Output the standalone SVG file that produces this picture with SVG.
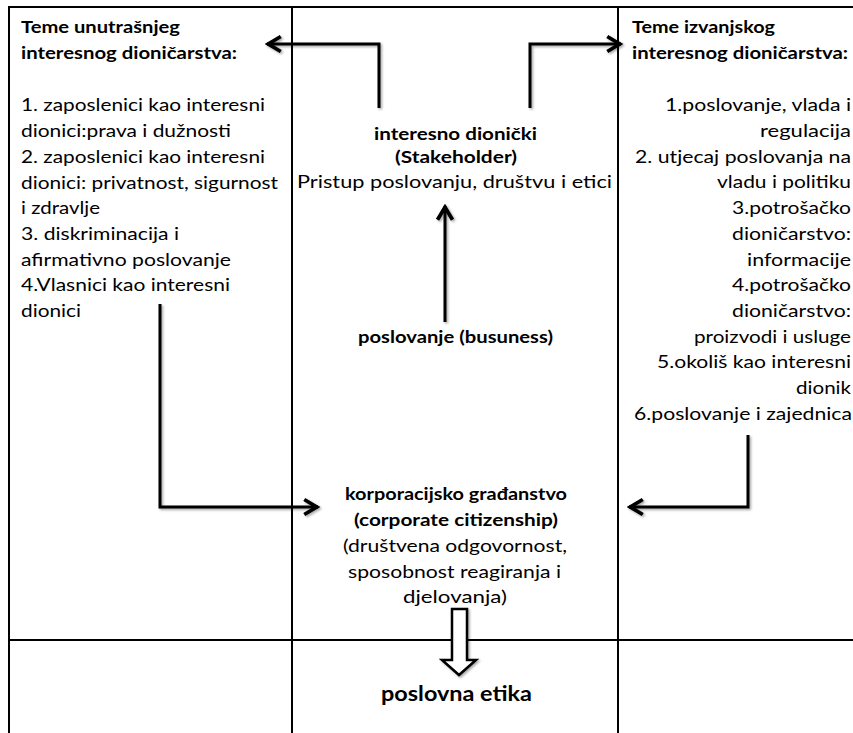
<svg xmlns="http://www.w3.org/2000/svg" width="853" height="733" viewBox="0 0 853 733">
<defs>
<style>
.grid{stroke:#000;stroke-width:2;fill:none}
.conn{stroke:#000;stroke-width:3;fill:none;stroke-linejoin:miter}
.t{font-family:Lato,"Liberation Sans",sans-serif;font-size:17.5px;fill:#000}
.b{font-weight:bold}
.c{text-anchor:middle}
.e{text-anchor:end}
</style>
<filter id="sh" x="-20%" y="-20%" width="140%" height="140%">
<feDropShadow dx="1.5" dy="1.5" stdDeviation="0.8" flood-color="#000" flood-opacity="0.35"/>
</filter>
<marker id="ah" markerUnits="userSpaceOnUse" markerWidth="20" markerHeight="20" refX="1" refY="0" viewBox="-12 -8 14 16" orient="auto">
<path d="M-10,-6 L0,0 L-10,6" fill="none" stroke="#000" stroke-width="3"/>
</marker>
</defs>
<rect width="853" height="733" fill="#fff"/>

<g id="table">
<line class="grid" x1="8" y1="7" x2="853" y2="7"/>
<line class="grid" x1="9" y1="6" x2="9" y2="733"/>
<line class="grid" x1="292" y1="7" x2="292" y2="733"/>
<line class="grid" x1="618" y1="7" x2="618" y2="733"/>
<line class="grid" x1="9" y1="640" x2="853" y2="640"/>
</g>

<g id="internal">
<text class="t b" x="21" y="33" textLength="159" lengthAdjust="spacingAndGlyphs">Teme unutrašnjeg</text>
<text class="t b" x="21" y="59" textLength="216" lengthAdjust="spacingAndGlyphs">interesnog dioničarstva:</text>
<text class="t" x="21" y="111" textLength="244" lengthAdjust="spacingAndGlyphs">1. zaposlenici kao interesni</text>
<text class="t" x="21" y="137" textLength="210" lengthAdjust="spacingAndGlyphs">dionici:prava i dužnosti</text>
<text class="t" x="21" y="163" textLength="244" lengthAdjust="spacingAndGlyphs">2. zaposlenici kao interesni</text>
<text class="t" x="21" y="189" textLength="257" lengthAdjust="spacingAndGlyphs">dionici: privatnost, sigurnost</text>
<text class="t" x="21" y="214" textLength="79" lengthAdjust="spacingAndGlyphs">i zdravlje</text>
<text class="t" x="21" y="240" textLength="158" lengthAdjust="spacingAndGlyphs">3. diskriminacija i</text>
<text class="t" x="21" y="266" textLength="210" lengthAdjust="spacingAndGlyphs">afirmativno poslovanje</text>
<text class="t" x="21" y="291" textLength="209" lengthAdjust="spacingAndGlyphs">4.Vlasnici kao interesni</text>
<text class="t" x="21" y="317" textLength="60" lengthAdjust="spacingAndGlyphs">dionici</text>
</g>

<g id="external">
<text class="t b" x="632" y="33" textLength="143" lengthAdjust="spacingAndGlyphs">Teme izvanjskog</text>
<text class="t b" x="632" y="59" textLength="216" lengthAdjust="spacingAndGlyphs">interesnog dioničarstva:</text>
<text class="t e" x="851" y="111" textLength="186" lengthAdjust="spacingAndGlyphs">1.poslovanje, vlada i</text>
<text class="t e" x="851" y="137" textLength="91" lengthAdjust="spacingAndGlyphs">regulacija</text>
<text class="t e" x="851" y="163" textLength="216" lengthAdjust="spacingAndGlyphs">2. utjecaj poslovanja na</text>
<text class="t e" x="851" y="188" textLength="134" lengthAdjust="spacingAndGlyphs">vladu i politiku</text>
<text class="t e" x="851" y="214" textLength="119" lengthAdjust="spacingAndGlyphs">3.potrošačko</text>
<text class="t e" x="851" y="240" textLength="119" lengthAdjust="spacingAndGlyphs">dioničarstvo:</text>
<text class="t e" x="851" y="266" textLength="104" lengthAdjust="spacingAndGlyphs">informacije</text>
<text class="t e" x="851" y="291" textLength="119" lengthAdjust="spacingAndGlyphs">4.potrošačko</text>
<text class="t e" x="851" y="317" textLength="119" lengthAdjust="spacingAndGlyphs">dioničarstvo:</text>
<text class="t e" x="851" y="343" textLength="157" lengthAdjust="spacingAndGlyphs">proizvodi i usluge</text>
<text class="t e" x="851" y="368" textLength="194" lengthAdjust="spacingAndGlyphs">5.okoliš kao interesni</text>
<text class="t e" x="851" y="394" textLength="55" lengthAdjust="spacingAndGlyphs">dionik</text>
<text class="t e" x="852" y="420" textLength="218" lengthAdjust="spacingAndGlyphs">6.poslovanje i zajednica</text>
</g>

<g id="stakeholder">
<text class="t b c" x="455.5" y="140" textLength="163" lengthAdjust="spacingAndGlyphs">interesno dionički</text>
<text class="t b c" x="456" y="163" textLength="122" lengthAdjust="spacingAndGlyphs">(Stakeholder)</text>
<text class="t c" x="454.5" y="188" textLength="315" lengthAdjust="spacingAndGlyphs">Pristup poslovanju, društvu i etici</text>
</g>

<g id="business">
<text class="t b c" x="455.5" y="343" textLength="195" lengthAdjust="spacingAndGlyphs">poslovanje (busuness)</text>
</g>

<g id="citizenship">
<text class="t b c" x="456" y="500" textLength="222" lengthAdjust="spacingAndGlyphs">korporacijsko građanstvo</text>
<text class="t b c" x="456" y="526" textLength="204" lengthAdjust="spacingAndGlyphs">(corporate citizenship)</text>
<text class="t c" x="455" y="552" textLength="224" lengthAdjust="spacingAndGlyphs">(društvena odgovornost,</text>
<text class="t c" x="454.5" y="578" textLength="213" lengthAdjust="spacingAndGlyphs">sposobnost reagiranja i</text>
<text class="t c" x="455" y="603" textLength="104" lengthAdjust="spacingAndGlyphs">djelovanja)</text>
</g>

<g id="ethics">
<text class="t b c" x="456.5" y="701" style="font-size:21px" textLength="151" lengthAdjust="spacingAndGlyphs">poslovna etika</text>
</g>

<g id="connectors" filter="url(#sh)">
<path class="conn" d="M379,108 V44 H267" marker-end="url(#ah)"/>
<path class="conn" d="M530,108 V44 H621" marker-end="url(#ah)"/>
<path class="conn" d="M445,322 V206" marker-end="url(#ah)"/>
<path class="conn" d="M160,304 V507 H318" marker-end="url(#ah)"/>
<path class="conn" d="M748,435 V507 H629" marker-end="url(#ah)"/>
<polygon points="452,609 467,609 467,660 476,660 459,675 442,660 452,660" fill="#fff" stroke="#000" stroke-width="2.5" stroke-linejoin="miter"/>
</g>
</svg>
